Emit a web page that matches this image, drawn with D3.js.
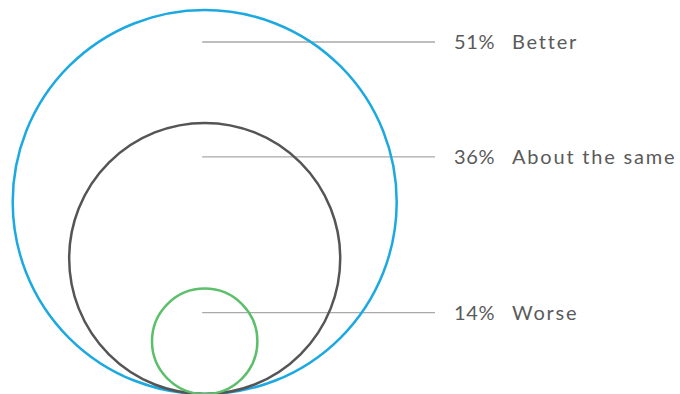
<!DOCTYPE html>
<html><head><meta charset="utf-8">
<script src="https://cdn.jsdelivr.net/npm/d3@7"></script>
<style>html,body{margin:0;padding:0;background:#fff;}svg{display:block;}</style>
</head><body>
<svg id="chart" width="680" height="394"></svg>
<script>
const categories = ["Better", "About the same", "Worse"];
const values = [51, 36, 14];
const colors = ["#1ca9e1", "#555555", "#5cbf6a"];
const labelOffsets = [32, 34, 24]; // distance of leader line below circle top

const svg = d3.select("#chart");
const cx = 204.7, baseY = 394;
const r = d3.scaleLinear().domain([0, d3.max(values)]).range([0, 192]);

const data = categories.map((c, i) => ({ c, v: values[i], color: colors[i], off: labelOffsets[i] }));

const lineY = d => baseY - 2 * r(d.v) + d.off;

svg.append("g").selectAll("line").data(data).join("line")
  .attr("x1", cx - 2.5).attr("x2", 435)
  .attr("y1", lineY).attr("y2", lineY)
  .attr("stroke", "#a9a9a9").attr("stroke-width", 1.3);

svg.append("g").selectAll("circle").data(data).join("circle")
  .attr("cx", cx).attr("cy", d => baseY - r(d.v)).attr("r", d => r(d.v))
  .attr("fill", "none").attr("stroke", d => d.color).attr("stroke-width", 2.5);

const t = svg.append("g").selectAll("g").data(data).join("g")
  .attr("transform", d => `translate(0,${lineY(d) + 7})`)
  .style("font-family", "Lato, 'Open Sans', sans-serif").style("font-size", "20px").attr("fill", "#5a5a5a");
t.append("text").attr("x", 454).style("letter-spacing", "0.6px").text(d => d.v + "%");
t.append("text").attr("x", 512).style("letter-spacing", "1.8px").text(d => d.c);
</script>
</body></html>
